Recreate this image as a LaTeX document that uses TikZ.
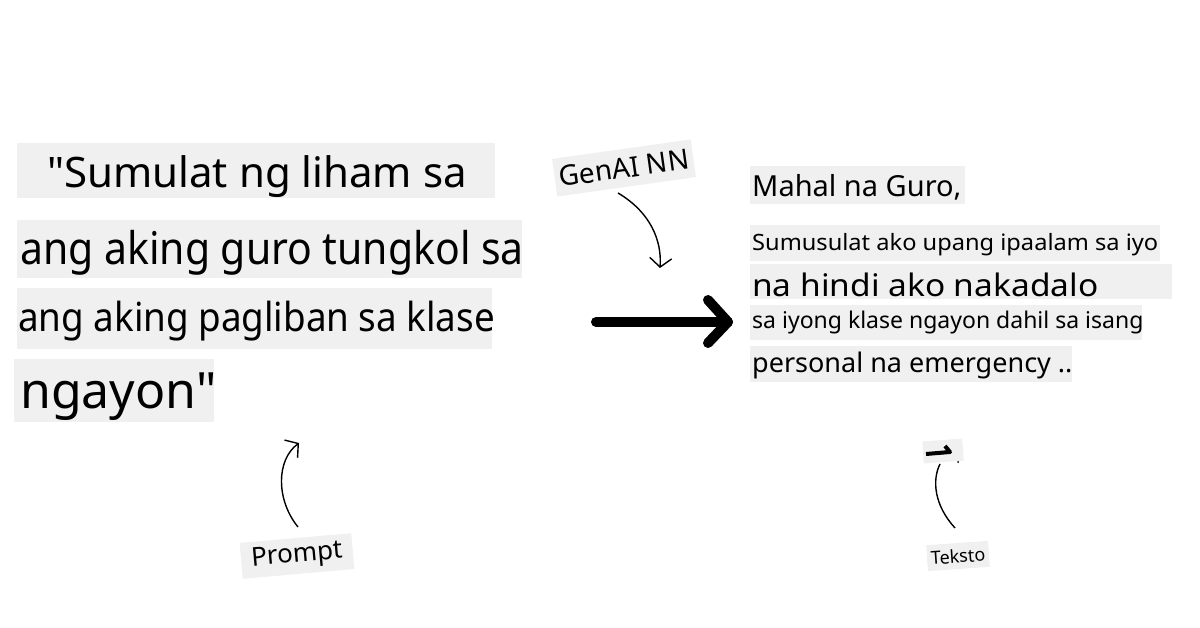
\documentclass[tikz,border=0pt]{standalone}
\usepackage{fontspec}
\newfontfamily\nsans{Noto Sans}
\usetikzlibrary{arrows.meta}
\definecolor{hl}{RGB}{240,240,240}
\newcommand{\fs}[1]{\nsans\fontsize{#1}{#1}\selectfont}
\tikzset{
  txt/.style={anchor=base west,inner sep=0pt,text=black},
  tag/.style={fill=hl,inner sep=0pt,text=black},
  thin arrow/.style={line width=1.4pt,-{Straight Barb[length=9pt,width=22pt,line width=1.4pt]}},
}
\begin{document}
\begin{tikzpicture}[x=1pt,y=-1pt]
\useasboundingbox (0,0) rectangle (1200,628);
% prompt boxes
\fill[hl] (17,143) rectangle (495,198);
\fill[hl] (17,220) rectangle (522,278);
\fill[hl] (17,288) rectangle (492,349);
\fill[hl] (14,359) rectangle (214,422);
\node[txt,font=\fs{42}] (p1) at (47,188) {"Sumulat ng liham sa};
\node[txt,font=\fs{45},xscale=0.91] (p2) at (20,265) {ang aking guro tungkol sa};
\node[txt,font=\fs{40},xscale=0.92] (p3) at (18,332) {ang aking pagliban sa klase};
\node[txt,font=\fs{50}] (p4) at (20,409) {ngayon"};
% output boxes
\fill[hl] (750,166) rectangle (965,204);
\fill[hl] (750,225) rectangle (1160,261);
\fill[hl] (750,264) rectangle (1172,299);
\fill[hl] (750,305) rectangle (1142,340);
\fill[hl] (750,346) rectangle (1072,382);
\node[txt,font=\fs{29}] (o1) at (752,197) {Mahal na Guro,};
\node[txt,font=\fs{22.5},xscale=1.05] (o2) at (752,251) {Sumusulat ako upang ipaalam sa iyo};
\node[txt,font=\fs{31},xscale=1.08] (o3) at (752,297) {na hindi ako nakadalo};
\node[txt,font=\fs{23}] (o4) at (752,329) {sa iyong klase ngayon dahil sa isang};
\node[txt,font=\fs{27}] (o5) at (752,373) {personal na emergency ..};
% labels
\node[tag,rotate=8,minimum width=140pt,minimum height=38pt,font=\fs{28}] (genai) at (624,168) {GenAI NN};
\node[tag,rotate=5,minimum width=112pt,minimum height=36pt,font=\fs{26}] (prompt) at (297,556) {Prompt};
\node[tag,rotate=4,minimum width=62pt,minimum height=26pt,font=\fs{18}] (teksto) at (958,556) {Teksto};
% big arrow
\coordinate (ba) at (596,322);
\coordinate (bb) at (728,322);
\draw[line width=10pt,line cap=round,line join=round] (ba) -- (bb);
\draw[line width=10pt,line cap=round,line join=round] (708,300) -- (bb) -- (708,343);
% GenAI arrow
\coordinate (ga) at (618,193);
\coordinate (gb) at (660,268);
\draw[thin arrow] (ga) .. controls (650,212) and (662,240) .. (gb);
% Prompt arrow
\coordinate (pa) at (298,527);
\coordinate (pb) at (299,443);
\draw[thin arrow] (pa) .. controls (276,500) and (276,460) .. (pb);
% Teksto arrow with squashed head
\coordinate (ta) at (955,528);
\coordinate (tb) at (940,464);
\draw[line width=1.4pt] (ta) .. controls (934,505) and (932,480) .. (tb);
\node[fill=hl,rotate=4,minimum width=40pt,minimum height=22pt,inner sep=0pt] (thead) at (943,451) {};
\draw[line width=4pt,line join=round] (926,454) -- (950,452) -- (945,446);
\fill (958,462) circle (1pt);
\end{tikzpicture}
\end{document}
